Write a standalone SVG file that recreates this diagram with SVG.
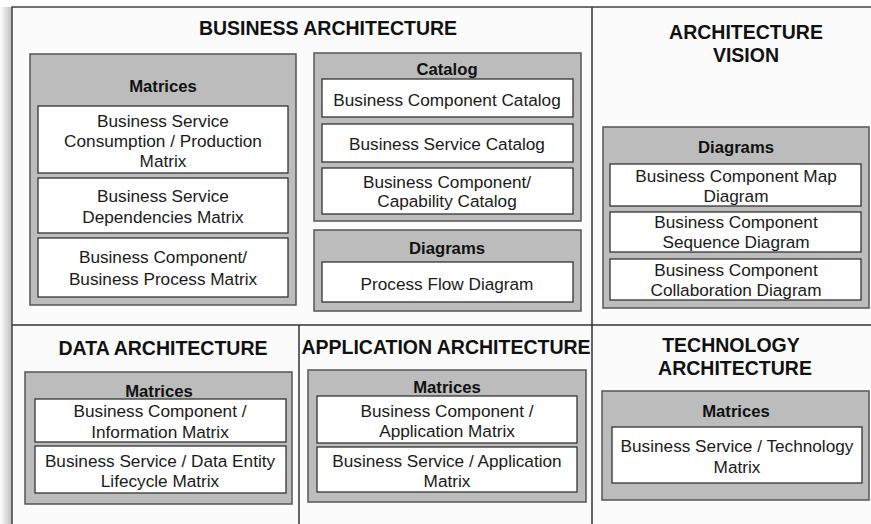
<svg xmlns="http://www.w3.org/2000/svg" width="871" height="524" viewBox="0 0 871 524">
<defs>
<linearGradient id="shadow" x1="0" y1="0" x2="1" y2="0">
<stop offset="0" stop-color="#ffffff"/>
<stop offset="1" stop-color="#bdbdbd"/>
</linearGradient>
</defs>
<style>
.frame{fill:#fbfbfb;stroke:#444;stroke-width:1.5}
.div{stroke:#333;stroke-width:1.5;fill:none}
.panel{fill:#bcbcbc;stroke:#555;stroke-width:1.5}
.box{fill:#fff;stroke:#333;stroke-width:1.3}
.h1{font-family:"Liberation Sans",Arial,sans-serif;font-weight:bold;font-size:19.5px;fill:#111;text-anchor:middle}
.h2{font-family:"Liberation Sans",Arial,sans-serif;font-weight:bold;font-size:16.7px;fill:#111;text-anchor:middle}
.t{font-family:"Liberation Sans",Arial,sans-serif;font-size:17.2px;fill:#1a1a1a;text-anchor:middle}
</style>
<rect x="0" y="0" width="871" height="524" fill="#ffffff"/>
<rect x="0" y="7" width="12" height="517" fill="url(#shadow)"/>
<rect class="frame" x="12" y="7" width="870" height="530"/>
<g id="dividers">
<line class="div" x1="12" y1="325" x2="871" y2="325"/>
<line class="div" x1="592" y1="7" x2="592" y2="524"/>
<line class="div" x1="299" y1="325" x2="299" y2="524"/>
</g>

<g id="business-architecture">
<text class="h1" x="328" y="35">BUSINESS ARCHITECTURE</text>
<g id="ba-matrices">
<rect class="panel" x="30" y="54" width="266" height="251"/>
<text class="h2" x="163" y="92">Matrices</text>
<rect class="box" x="38" y="106" width="250" height="67"/>
<text class="t" x="163" y="127">Business Service</text>
<text class="t" x="163" y="147">Consumption / Production</text>
<text class="t" x="163" y="167">Matrix</text>
<rect class="box" x="38" y="178" width="250" height="55"/>
<text class="t" x="163" y="202">Business Service</text>
<text class="t" x="163" y="223">Dependencies Matrix</text>
<rect class="box" x="38" y="238" width="250" height="59"/>
<text class="t" x="163" y="263">Business Component/</text>
<text class="t" x="163" y="285">Business Process Matrix</text>
</g>
<g id="ba-catalog">
<rect class="panel" x="314" y="53" width="267" height="168"/>
<text class="h2" x="447" y="75">Catalog</text>
<rect class="box" x="322" y="79" width="251" height="38"/>
<text class="t" x="447" y="106">Business Component Catalog</text>
<rect class="box" x="322" y="124" width="251" height="38"/>
<text class="t" x="447" y="150">Business Service Catalog</text>
<rect class="box" x="322" y="168" width="251" height="46"/>
<text class="t" x="447" y="188">Business Component/</text>
<text class="t" x="447" y="207">Capability Catalog</text>
</g>
<g id="ba-diagrams">
<rect class="panel" x="314" y="230" width="267" height="81"/>
<text class="h2" x="447" y="254">Diagrams</text>
<rect class="box" x="322" y="262" width="251" height="40"/>
<text class="t" x="447" y="290">Process Flow Diagram</text>
</g>
</g>

<g id="architecture-vision">
<text class="h1" x="746" y="39">ARCHITECTURE</text>
<text class="h1" x="746" y="62">VISION</text>
<g id="av-diagrams">
<rect class="panel" x="603" y="127" width="266" height="181"/>
<text class="h2" x="736" y="153">Diagrams</text>
<rect class="box" x="610" y="164" width="251" height="42"/>
<text class="t" x="736" y="182">Business Component Map</text>
<text class="t" x="736" y="202">Diagram</text>
<rect class="box" x="610" y="212" width="251" height="40"/>
<text class="t" x="736" y="228">Business Component</text>
<text class="t" x="736" y="248">Sequence Diagram</text>
<rect class="box" x="610" y="259" width="251" height="41"/>
<text class="t" x="736" y="276">Business Component</text>
<text class="t" x="736" y="296">Collaboration Diagram</text>
</g>
</g>

<g id="data-architecture">
<text class="h1" x="163" y="355">DATA ARCHITECTURE</text>
<g id="da-matrices">
<rect class="panel" x="25" y="372" width="267" height="132"/>
<text class="h2" x="159" y="397">Matrices</text>
<rect class="box" x="35" y="399" width="251" height="43"/>
<text class="t" x="160" y="417">Business Component /</text>
<text class="t" x="160" y="438">Information Matrix</text>
<rect class="box" x="35" y="446" width="251" height="47"/>
<text class="t" x="160" y="467">Business Service / Data Entity</text>
<text class="t" x="160" y="487">Lifecycle Matrix</text>
</g>
</g>

<g id="application-architecture">
<text class="h1" x="446" y="354">APPLICATION ARCHITECTURE</text>
<g id="aa-matrices">
<rect class="panel" x="308" y="370" width="278" height="132"/>
<text class="h2" x="447" y="393">Matrices</text>
<rect class="box" x="317" y="396" width="260" height="47"/>
<text class="t" x="447" y="417">Business Component /</text>
<text class="t" x="447" y="437">Application Matrix</text>
<rect class="box" x="317" y="447" width="260" height="45"/>
<text class="t" x="447" y="467">Business Service / Application</text>
<text class="t" x="447" y="487">Matrix</text>
</g>
</g>

<g id="technology-architecture">
<text class="h1" x="731" y="352">TECHNOLOGY</text>
<text class="h1" x="735" y="375">ARCHITECTURE</text>
<g id="ta-matrices">
<rect class="panel" x="602" y="391" width="267" height="109"/>
<text class="h2" x="736" y="417">Matrices</text>
<rect class="box" x="612" y="427" width="250" height="56"/>
<text class="t" x="737" y="452">Business Service / Technology</text>
<text class="t" x="737" y="473">Matrix</text>
</g>
</g>
</svg>
